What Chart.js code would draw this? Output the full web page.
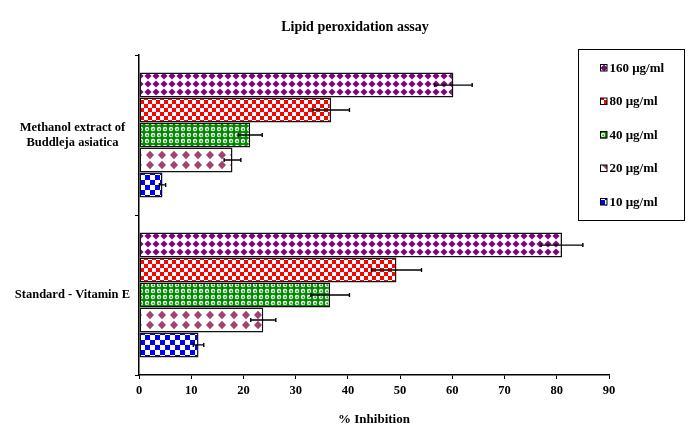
<!DOCTYPE html>
<html>
<head>
<meta charset="utf-8">
<script src="https://cdn.jsdelivr.net/npm/chart.js@4.4.1/dist/chart.umd.min.js"></script>
<style>
html,body{margin:0;padding:0;background:#fff;}
#wrap{width:688px;height:424px;position:relative;}
</style>
</head>
<body>
<div id="wrap"><canvas id="c" width="688" height="424"></canvas></div>
<script>
const chartTitle = "Lipid peroxidation assay";
const xAxisTitle = "% Inhibition";
const categories = [["Methanol extract of", "Buddleja asiatica"], "Standard - Vitamin E"];
const seriesLabels = ["160 μg/ml", "80 μg/ml", "40 μg/ml", "20 μg/ml", "10 μg/ml"];
const values160 = [60.2, 81.0];
const values80 = [36.8, 49.3];
const values40 = [21.3, 36.6];
const values20 = [17.9, 23.8];
const values10 = [4.5, 11.4];
const errors160 = [3.6, 4.0];
const errors80 = [3.5, 4.8];
const errors40 = [2.3, 3.7];
const errors20 = [1.6, 2.4];
const errors10 = [0.6, 1.0];
const xTicks = [0, 10, 20, 30, 40, 50, 60, 70, 80, 90];

function tile(w, h, draw) {
  const c = document.createElement('canvas');
  c.width = w; c.height = h;
  const g = c.getContext('2d');
  draw(g, w, h);
  return document.getElementById('c').getContext('2d').createPattern(c, 'repeat');
}
function diamond(g, cx, cy, rx, ry, col) {
  g.fillStyle = col;
  g.beginPath();
  g.moveTo(cx, cy - ry); g.lineTo(cx + rx, cy); g.lineTo(cx, cy + ry); g.lineTo(cx - rx, cy);
  g.closePath(); g.fill();
}
const patPurple = tile(8, 8, (g, w, h) => { g.fillStyle = '#fff'; g.fillRect(0, 0, w, h); diamond(g, 4, 4, 3.6, 3.6, '#7a0a7a'); });
const patRed = tile(8, 8, (g) => { g.fillStyle = '#fff'; g.fillRect(0, 0, 8, 8); g.fillStyle = '#ff0000'; g.fillRect(0, 0, 4, 4); g.fillRect(4, 4, 4, 4); });
const patGreen = tile(6, 6, (g) => {
  g.fillStyle = '#008a00'; g.fillRect(0, 0, 6, 6);
  g.fillStyle = '#ffffff'; g.beginPath(); g.arc(3, 3, 2.2, 0, Math.PI * 2); g.fill();
  g.fillStyle = '#2a9a2a'; g.beginPath(); g.arc(3.3, 3.3, 1.1, 0, Math.PI * 2); g.fill();
});
const patMauve = tile(12, 10, (g) => { g.fillStyle = '#fff'; g.fillRect(0, 0, 12, 10); diamond(g, 6, 5, 4, 4.2, '#a3426f'); });
const patBlue = tile(10, 10, (g) => { g.fillStyle = '#fff'; g.fillRect(0, 0, 10, 10); g.fillStyle = '#0000ff'; g.fillRect(0, 0, 5, 5); g.fillRect(5, 5, 5, 5); });

const seriesValues = [values160, values80, values40, values20, values10];
const seriesErrors = [errors160, errors80, errors40, errors20, errors10];
const seriesFills = [patPurple, patRed, patGreen, patMauve, patBlue];

const serif = "'Liberation Serif', 'Times New Roman', serif";

const extras = {
  id: 'extras',
  afterDatasetsDraw(chart) {
    const ctx = chart.ctx;
    const xs = chart.scales.x;
    ctx.save();
    ctx.strokeStyle = '#000';
    ctx.lineWidth = 1.4;
    chart.data.datasets.forEach((ds, di) => {
      const meta = chart.getDatasetMeta(di);
      meta.data.forEach((el, i) => {
        const v = ds.data[i], e = seriesErrors[di][i];
        const x1 = xs.getPixelForValue(v - e), x2 = xs.getPixelForValue(v + e);
        const y = el.y;
        ctx.beginPath();
        ctx.moveTo(x1, y); ctx.lineTo(x2, y);
        ctx.moveTo(x1, y - 2); ctx.lineTo(x1, y + 2);
        ctx.moveTo(x2, y - 2); ctx.lineTo(x2, y + 2);
        ctx.stroke();
      });
    });
    ctx.restore();
  },
  afterDraw(chart) {
    const ctx = chart.ctx;
    ctx.save();
    ctx.fillStyle = '#000';
    ctx.font = "bold 14px " + serif;
    ctx.textAlign = 'center';
    ctx.textBaseline = 'middle';
    ctx.fillText(chartTitle, 355, 27);
    ctx.strokeStyle = '#000';
    ctx.lineWidth = 1;
    ctx.strokeRect(578.5, 49.5, 106, 171);
    chart.data.datasets.forEach((ds, i) => {
      const y = 68 + i * 33.5;
      ctx.fillStyle = ds.backgroundColor;
      ctx.fillRect(600, y - 3.5, 7, 7);
      ctx.strokeStyle = '#000';
      ctx.lineWidth = 1;
      ctx.strokeRect(600.5, y - 3.5, 6.5, 6.5);
      ctx.fillStyle = '#000';
      ctx.textAlign = 'left';
      ctx.font = "bold 13px " + serif;
      ctx.fillText(ds.label, 609.5, y + 0.5);
    });
    ctx.restore();
  }
};

new Chart(document.getElementById('c'), {
  type: 'bar',
  data: {
    labels: categories,
    datasets: seriesLabels.map((lab, i) => ({
      label: lab,
      data: seriesValues[i],
      backgroundColor: seriesFills[i],
      borderColor: '#111',
      borderWidth: 1.5,
      borderSkipped: false,
      barPercentage: 1.0,
      categoryPercentage: 0.78
    }))
  },
  options: {
    indexAxis: 'y',
    responsive: false,
    animation: false,
    layout: { padding: { top: 55, right: 79, left: 0, bottom: 0 } },
    plugins: { legend: { display: false }, title: { display: false }, tooltip: { enabled: false } },
    scales: {
      x: {
        type: 'linear',
        min: 0, max: 90,
        afterBuildTicks: (s) => { s.ticks = xTicks.map(v => ({ value: v })); },
        afterFit: (s) => { s.height = 49; },
        grid: { display: true, drawOnChartArea: false, drawTicks: true, tickLength: 4, color: '#000', lineWidth: 1 },
        border: { display: true, color: '#000', width: 1.5 },
        ticks: { color: '#000', padding: 4, font: { family: serif, weight: 'bold', size: 12.5 } },
        title: { display: true, text: xAxisTitle, color: '#000', padding: { top: 0, bottom: -3 }, font: { family: serif, weight: 'bold', size: 13 } }
      },
      y: {
        afterFit: (s) => { s.width = 139; },
        grid: { display: true, drawOnChartArea: false, drawTicks: true, tickLength: 4, color: '#000', lineWidth: 1 },
        border: { display: true, color: '#000', width: 1.5 },
        ticks: { color: '#000', padding: 5, crossAlign: 'center', font: { family: serif, weight: 'bold', size: 12.5 } }
      }
    }
  },
  plugins: [extras]
});
</script>
</body>
</html>
